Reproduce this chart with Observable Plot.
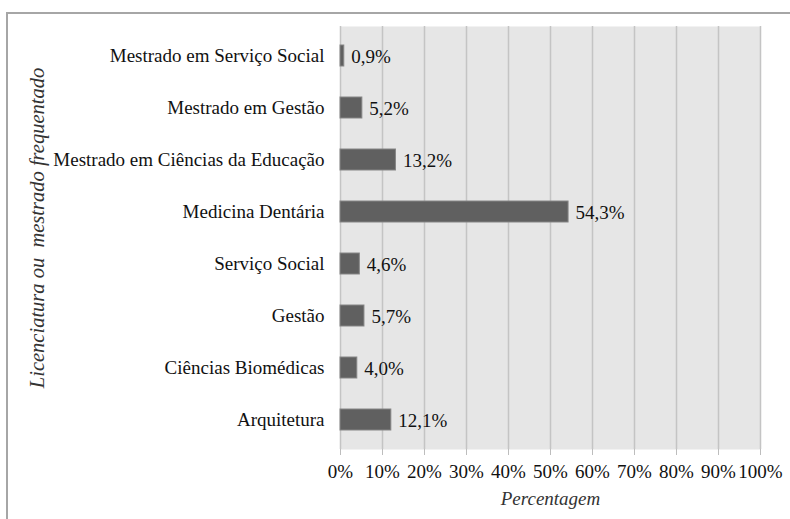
<!DOCTYPE html>
<html>
<head>
<meta charset="utf-8">
<script src="https://cdn.jsdelivr.net/npm/d3@7"></script>
<script src="https://cdn.jsdelivr.net/npm/@observablehq/plot@0.6"></script>
<style>
  html, body { margin: 0; padding: 0; background: #ffffff; }
  #wrap { position: relative; width: 790px; height: 519px; overflow: hidden; }
  #frame { position: absolute; left: 6px; top: 12px; width: 800px; height: 600px;
           border-top: 2px solid #a6a6a6; border-left: 2px solid #a6a6a6; pointer-events: none; }
  #chart { position: absolute; left: 0; top: 0; }
  #ylabel { position: absolute; left: 37px; top: 228px; transform: translate(-50%, -50%) rotate(-90deg);
            white-space: pre; font-family: 'Liberation Serif', 'Times New Roman', serif; font-style: italic;
            font-size: 20.5px; color: #333333; line-height: 1; }
</style>
</head>
<body>
<div id="wrap">
  <div id="chart"></div>
  <div id="ylabel"></div>
  <div id="frame"></div>
</div>
<script>
const categories = [
  "Mestrado em Serviço Social",
  "Mestrado em Gestão",
  "Mestrado em Ciências da Educação",
  "Medicina Dentária",
  "Serviço Social",
  "Gestão",
  "Ciências Biomédicas",
  "Arquitetura"
];
const values = [0.9, 5.2, 13.2, 54.3, 4.6, 5.7, 4.0, 12.1];
const xTicks = [0, 10, 20, 30, 40, 50, 60, 70, 80, 90, 100];
const xTitle = "Percentagem";
const yTitle = "Licenciatura ou  mestrado frequentado";

const data = categories.map((c, i) => ({category: c, value: values[i]}));
const fmt = v => v.toFixed(1).replace(".", ",") + "%";
const font = "'Liberation Serif', 'Times New Roman', serif";

document.getElementById("ylabel").textContent = yTitle;

const chart = Plot.plot({
  width: 790,
  height: 519,
  marginLeft: 340,
  marginRight: 30,
  marginTop: 26,
  marginBottom: 70,
  style: {fontFamily: font, fontSize: "19px", color: "#111111", background: "transparent"},
  x: {domain: [0, 100], ticks: xTicks, tickFormat: d => d + "%"},
  y: {domain: categories, paddingInner: 0.6, paddingOuter: 0.3},
  marks: [
    Plot.frame({fill: "#e6e6e6", stroke: null}),
    Plot.ruleX(xTicks, {stroke: "#c4c4c4", strokeWidth: 1.5}),
    Plot.axisX({ticks: xTicks, tickFormat: d => d + "%", tickSize: 6, tickPadding: 9, stroke: "#bdbdbd", strokeOpacity: 1, label: null, fontSize: 19, fill: "#111111"}),
    Plot.axisY({tickSize: 0, tickPadding: 16, label: null, fontSize: 19, fill: "#111111"}),
    Plot.barX(data, {x: "value", y: "category", fill: "#606060", stroke: "#858585", strokeWidth: 1}),
    Plot.text(data, {x: "value", y: "category", text: d => fmt(d.value), textAnchor: "start", dx: 7, dy: 1, fontSize: 19, fill: "#111111"}),
    Plot.text([xTitle], {frameAnchor: "bottom", dy: 55, text: d => d, fontStyle: "italic", fontSize: 19, fill: "#333333"})
  ]
});
document.getElementById("chart").appendChild(chart);
</script>
</body>
</html>
